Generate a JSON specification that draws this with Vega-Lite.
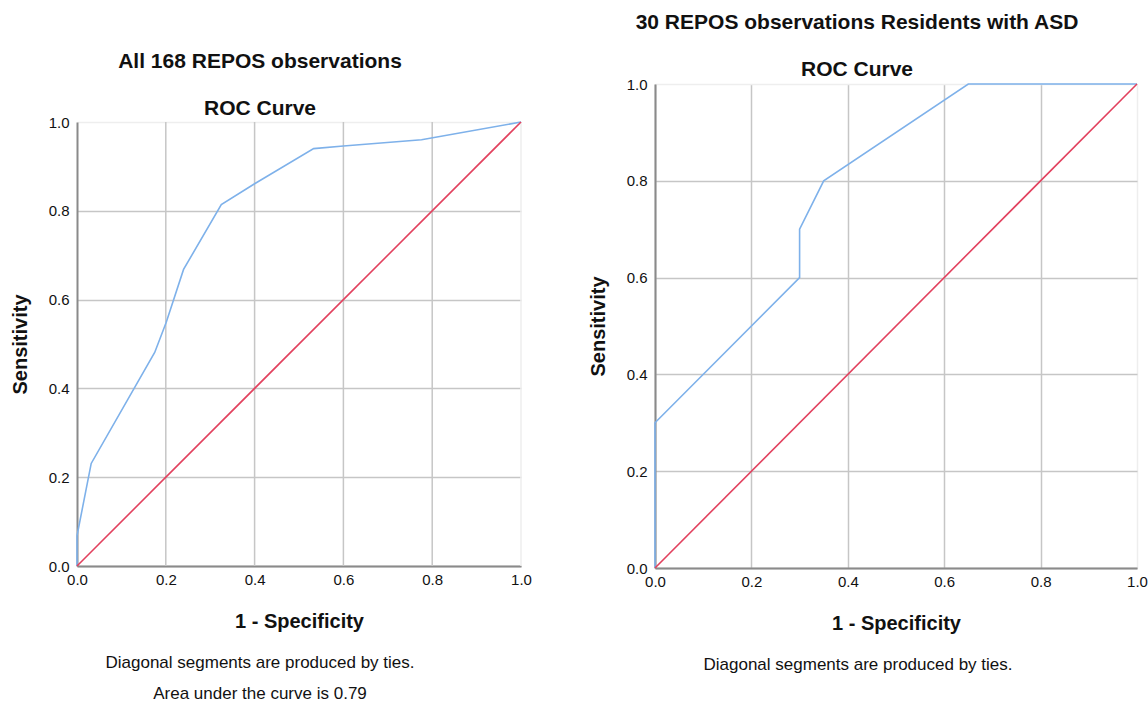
{
  "$schema": "https://vega.github.io/schema/vega-lite/v6.json",
  "background": "white",
  "padding": {"left": 10, "top": 12, "right": 5, "bottom": 5},
  "datasets": {
    "all": [
      {"i": 0, "fpr": 0, "tpr": 0},
      {"i": 1, "fpr": 0, "tpr": 0.068},
      {"i": 2, "fpr": 0.032, "tpr": 0.231},
      {"i": 3, "fpr": 0.175, "tpr": 0.481},
      {"i": 4, "fpr": 0.201, "tpr": 0.549},
      {"i": 5, "fpr": 0.240, "tpr": 0.668},
      {"i": 6, "fpr": 0.325, "tpr": 0.814},
      {"i": 7, "fpr": 0.400, "tpr": 0.861},
      {"i": 8, "fpr": 0.533, "tpr": 0.940},
      {"i": 9, "fpr": 0.600, "tpr": 0.946},
      {"i": 10, "fpr": 0.776, "tpr": 0.960},
      {"i": 11, "fpr": 1, "tpr": 1}
    ],
    "asd": [
      {"i": 0, "fpr": 0, "tpr": 0},
      {"i": 1, "fpr": 0, "tpr": 0.3},
      {"i": 2, "fpr": 0.3, "tpr": 0.6},
      {"i": 3, "fpr": 0.3, "tpr": 0.7},
      {"i": 4, "fpr": 0.35, "tpr": 0.8},
      {"i": 5, "fpr": 0.65, "tpr": 1.0},
      {"i": 6, "fpr": 1, "tpr": 1}
    ],
    "diag": [
      {"i": 0, "fpr": 0, "tpr": 0},
      {"i": 1, "fpr": 1, "tpr": 1}
    ],
    "xgridlines": [
      {"gx": 0.2, "gy0": 0, "gy1": 1, "faint": false},
      {"gx": 0.4, "gy0": 0, "gy1": 1, "faint": false},
      {"gx": 0.6, "gy0": 0, "gy1": 1, "faint": false},
      {"gx": 0.8, "gy0": 0, "gy1": 1, "faint": false},
      {"gx": 1.0, "gy0": 0, "gy1": 1, "faint": true}
    ]
  },
  "config": {
    "font": "Liberation Sans",
    "view": {"stroke": null},
    "title": {
      "font": "Liberation Sans",
      "fontSize": 21,
      "fontWeight": "bold",
      "color": "#111111",
      "subtitleFont": "Liberation Sans",
      "subtitleFontSize": 21,
      "subtitleFontWeight": "bold",
      "subtitleColor": "#111111",
      "subtitlePadding": 26,
      "offset": -3,
      "anchor": "middle",
      "frame": "group",
      "dx": -39
    }
  },
  "spacing": 56,
  "hconcat": [
    {
      "title": {
        "text": "Diagonal segments are produced by ties.",
        "subtitle": "Area under the curve is 0.79",
        "orient": "bottom",
        "fontSize": 17,
        "fontWeight": "normal",
        "subtitleFontSize": 17,
        "subtitleFontWeight": "normal",
        "subtitlePadding": 14,
        "offset": 24,
        "dx": 183
      },
      "vconcat": [
        {
          "width": 444,
          "height": 482,
          "title": {
            "text": "All 168 REPOS observations",
            "subtitle": "ROC Curve",
            "offset": -35
          },
          "layer": [
            {
              "data": {"name": "xgridlines"},
              "mark": {"type": "rule", "strokeWidth": 1.5},
              "encoding": {
                "x": {"field": "gx", "type": "quantitative", "scale": {"domain": [0, 1], "nice": false},
                  "axis": {"title": "1 - Specificity", "values": [0, 0.2, 0.4, 0.6, 0.8, 1.0], "format": ".1f",
                    "domainColor": "#8a8a8a", "domainWidth": 2, "ticks": false, "labelFontSize": 15, "labelColor": "#111111",
                    "labelFlush": false, "labelOverlap": false, "labelPadding": 6, "titlePadding": 24,
                    "titleFontSize": 20, "titleFontWeight": "bold", "titleColor": "#111111",
                    "grid": false}},
                "y": {"field": "gy0", "type": "quantitative", "scale": {"domain": [0, 1], "nice": false, "range": [482, 38]},
                  "axis": {"title": "Sensitivity", "values": [0, 0.2, 0.4, 0.6, 0.8, 1.0], "format": ".1f",
                    "domainColor": "#8a8a8a", "domainWidth": 2, "ticks": false, "labelFontSize": 15, "labelColor": "#111111",
                    "labelFlush": false, "labelOverlap": false, "labelPadding": 8, "titlePadding": 18,
                    "titleFontSize": 20, "titleFontWeight": "bold", "titleColor": "#111111",
                    "gridWidth": 1.5, "gridColor": {"condition": {"test": "datum.value == 1", "value": "#eeeeee"}, "value": "#c6c6c6"}}},
                "y2": {"field": "gy1"},
                "color": {"condition": {"test": "datum.faint", "value": "#eeeeee"}, "value": "#c6c6c6"}
              }
            },
            {"data": {"name": "all"}, "mark": {"type": "line", "color": "#7eb1ea", "strokeWidth": 1.6},
              "encoding": {"x": {"field": "fpr", "type": "quantitative"}, "y": {"field": "tpr", "type": "quantitative"}, "order": {"field": "i", "type": "quantitative"}}},
            {"data": {"name": "diag"}, "mark": {"type": "line", "color": "#e2415e", "strokeWidth": 1.6},
              "encoding": {"x": {"field": "fpr", "type": "quantitative"}, "y": {"field": "tpr", "type": "quantitative"}, "order": {"field": "i", "type": "quantitative"}}}
          ]
        }
      ]
    },
    {
      "title": {
        "text": "Diagonal segments are produced by ties.",
        "orient": "bottom",
        "fontSize": 17,
        "fontWeight": "normal",
        "offset": 24,
        "dx": 203
      },
      "vconcat": [
        {
          "width": 482,
          "height": 484,
          "title": {
            "text": "30 REPOS observations Residents with ASD",
            "subtitle": "ROC Curve"
          },
          "encoding": {
            "x": {"field": "fpr", "type": "quantitative", "scale": {"domain": [0, 1], "nice": false},
              "axis": {"title": "1 - Specificity", "values": [0, 0.2, 0.4, 0.6, 0.8, 1.0], "format": ".1f",
                "domainColor": "#8a8a8a", "domainWidth": 2, "ticks": false, "labelFontSize": 15, "labelColor": "#111111",
                "labelFlush": false, "labelOverlap": false, "labelPadding": 6, "titlePadding": 24,
                "titleFontSize": 20, "titleFontWeight": "bold", "titleColor": "#111111",
                "gridWidth": 1.5, "gridColor": {"condition": {"test": "datum.value == 1", "value": "#eeeeee"}, "value": "#c6c6c6"}}},
            "y": {"field": "tpr", "type": "quantitative", "scale": {"domain": [0, 1], "nice": false},
              "axis": {"title": "Sensitivity", "values": [0, 0.2, 0.4, 0.6, 0.8, 1.0], "format": ".1f",
                "domainColor": "#8a8a8a", "domainWidth": 2, "ticks": false, "labelFontSize": 15, "labelColor": "#111111",
                "labelFlush": false, "labelOverlap": false, "labelPadding": 8, "titlePadding": 18,
                "titleFontSize": 20, "titleFontWeight": "bold", "titleColor": "#111111",
                "gridWidth": 1.5, "gridColor": {"condition": {"test": "datum.value == 1", "value": "#eeeeee"}, "value": "#c6c6c6"}}},
            "order": {"field": "i", "type": "quantitative"}
          },
          "layer": [
            {"data": {"name": "asd"}, "mark": {"type": "line", "color": "#7eb1ea", "strokeWidth": 1.6}},
            {"data": {"name": "diag"}, "mark": {"type": "line", "color": "#e2415e", "strokeWidth": 1.6}}
          ]
        }
      ]
    }
  ]
}
